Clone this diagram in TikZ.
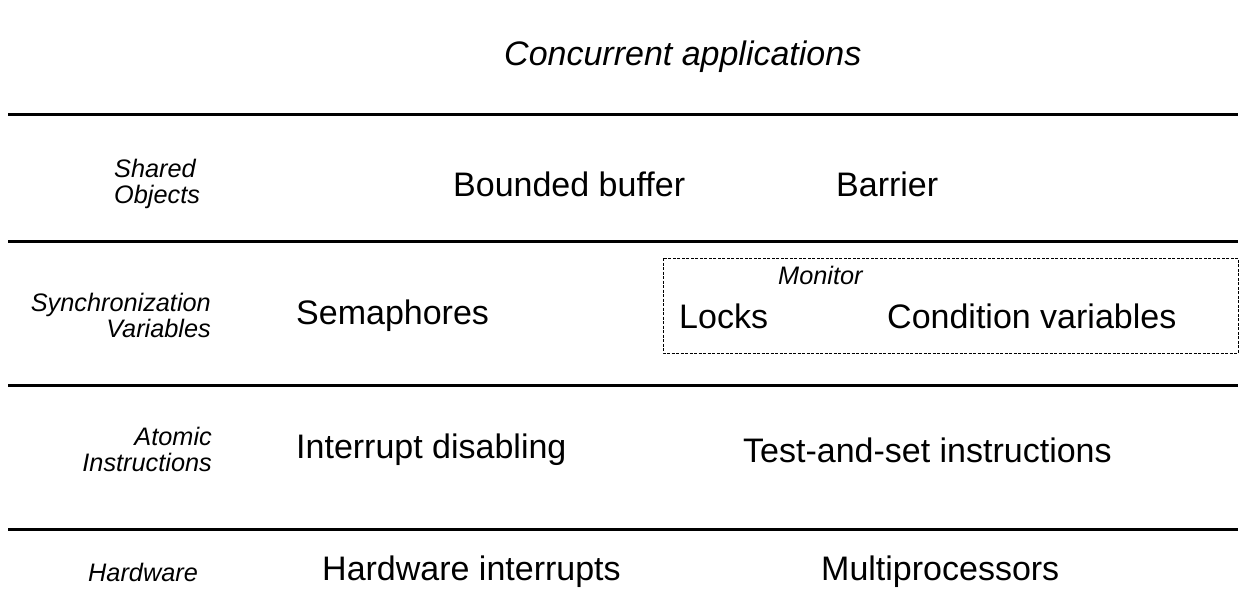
\documentclass[tikz,border=0pt]{standalone}
\usepackage{fontspec}
\setmainfont{Liberation Sans}
\begin{document}
\begin{tikzpicture}[x=1pt,y=-1pt,
  layer/.style={line width=3pt},
  big/.style={font=\fontsize{34}{40}\selectfont, inner sep=0pt, anchor=base west},
  small/.style={font=\fontsize{25.3}{26}\selectfont\itshape, inner sep=0pt, align=#1},
  small/.default=left,
  mon/.style={draw, line width=1pt, dash pattern=on 3pt off 1.5pt}]
\useasboundingbox (0,0) rectangle (1248,614);
% layer separators
\coordinate (l1a) at (8,114);  \coordinate (l1b) at (1238,114);
\coordinate (l2a) at (8,241);  \coordinate (l2b) at (1238,241);
\coordinate (l3a) at (8,385);  \coordinate (l3b) at (1238,385);
\coordinate (l4a) at (8,529);  \coordinate (l4b) at (1238,529);
\draw[layer] (l1a) -- (l1b);
\draw[layer] (l2a) -- (l2b);
\draw[layer] (l3a) -- (l3b);
\draw[layer] (l4a) -- (l4b);
% title
\node[big, font=\fontsize{34}{40}\selectfont\itshape] (title) at (504,65) {Concurrent applications};
% side labels
\node[small=left, anchor=north west] (shared) at (114,159) {Shared\\Objects};
\node[small=right, anchor=north east] (sync) at (211,293) {Synchronization\\Variables};
\node[small=right, anchor=north east] (atomic) at (212,427) {Atomic\\Instructions};
\node[small, anchor=base west] (hw) at (88,581) {Hardware};
% row contents
\node[big] (bb) at (453,196) {Bounded buffer};
\node[big] (bar) at (836,196) {Barrier};
\node[big] (sem) at (296,324) {Semaphores};
\draw[mon] (663,258) rectangle (1238,353);
\node[small, anchor=base west] (monitor) at (778,284) {Monitor};
\node[big] (locks) at (679,328) {Locks};
\node[big] (cv) at (887,328) {Condition variables};
\node[big] (intd) at (296,458) {Interrupt disabling};
\node[big] (tas) at (743,462) {Test-and-set instructions};
\node[big] (hwi) at (322,580) {Hardware interrupts};
\node[big] (mp) at (821,580) {Multiprocessors};
\end{tikzpicture}
\end{document}
